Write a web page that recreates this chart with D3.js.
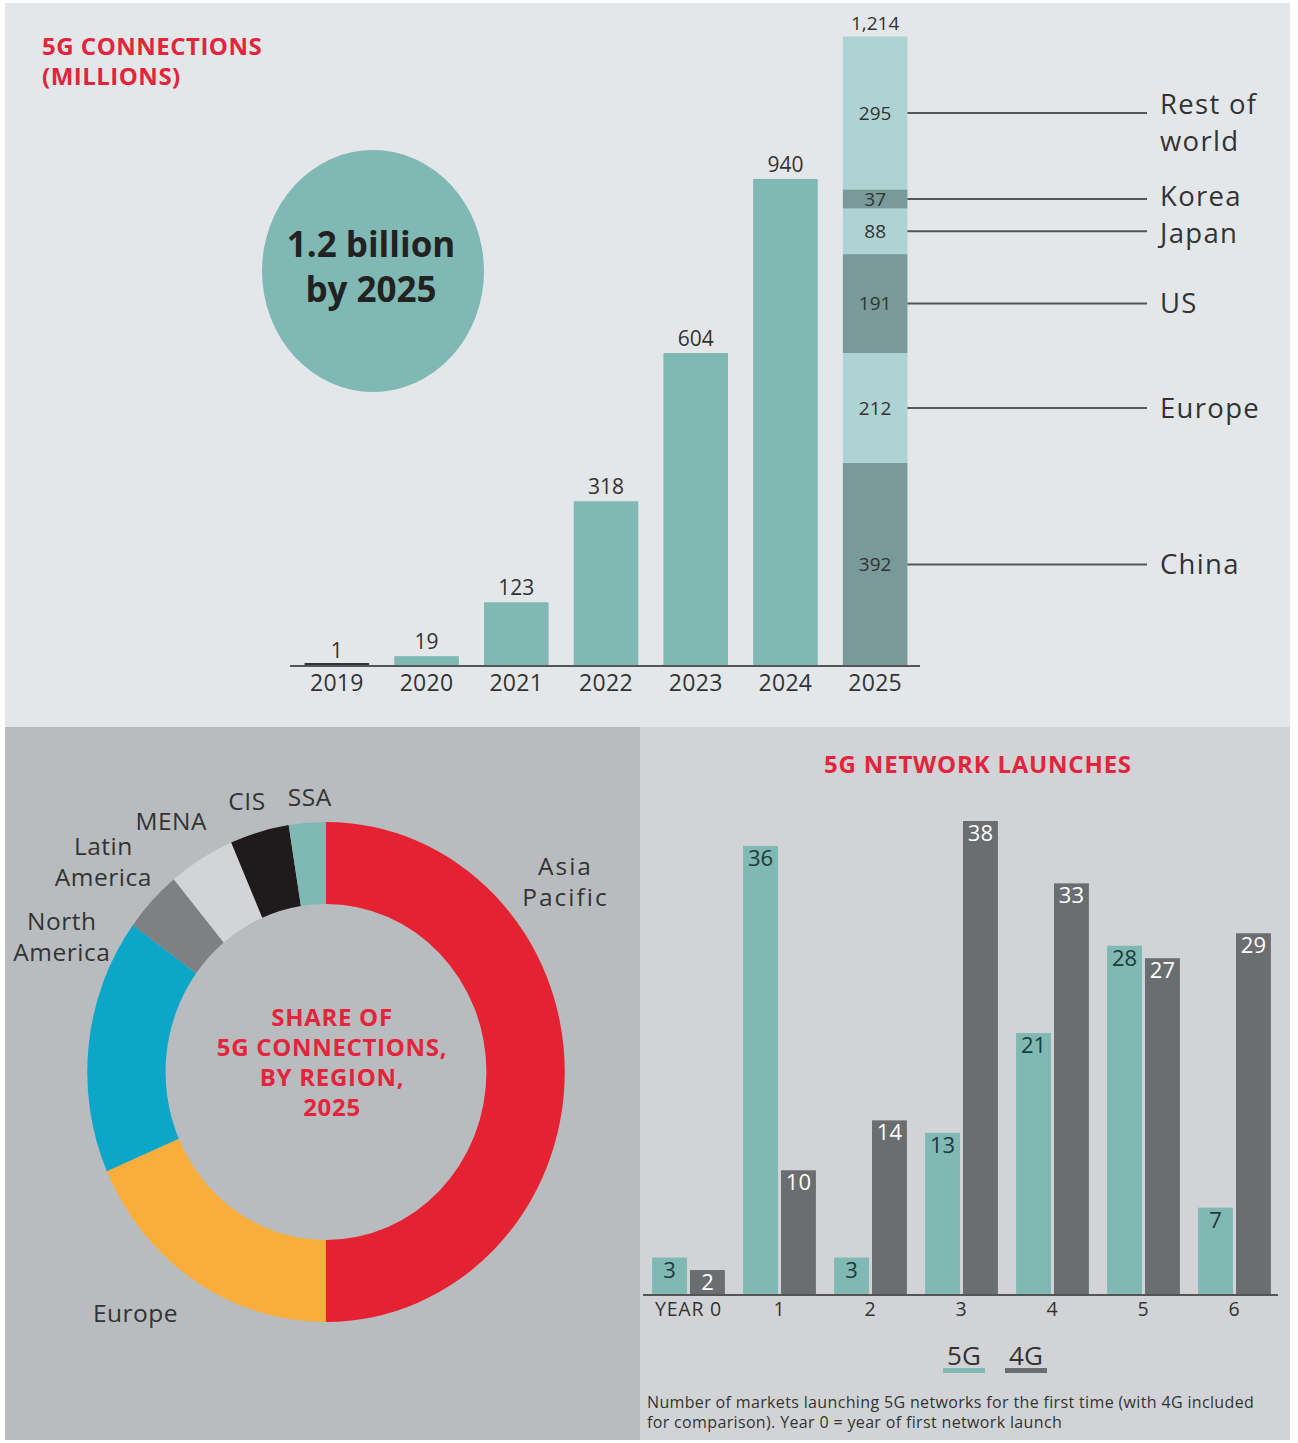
<!DOCTYPE html>
<html lang="en">
<head>
    <meta charset="UTF-8">
    <title>5G connections</title>
    <style>
        body {
            margin: 0;
            background: white;
        }

        svg {
            display: block;
            font-family: "Open Sans", sans-serif;
        }

        .title {
            fill: #e3243b;
            font-weight: bold;
        }

        .dark {
            fill: #333;
        }

        .domain {
            stroke: #555;
            stroke-width: 2;
        }
    </style>
</head>
<body>
<svg id="chart" width="1298" height="1443"></svg>
<script src="https://cdn.jsdelivr.net/npm/d3@7"></script>
<script>

// 5G connections, millions
const years = ["2019", "2020", "2021", "2022", "2023", "2024", "2025"];
const connections = [1, 19, 123, 318, 604, 940, 1214];

// 2025 split, bottom to top
const regions2025 = ["China", "Europe", "US", "Japan", "Korea", "Rest of world"];
const regionValues2025 = [392, 212, 191, 88, 37, 295];

// share of 5G connections by region, 2025 (%)
const shareRegions = ["Asia Pacific", "Europe", "North America", "Latin America", "MENA", "CIS", "SSA"];
const shareValues = [50, 18.5, 16.5, 4, 4.5, 4, 2.5];
const shareColors = ["#e52231", "#f9ae3c", "#0ca6c9", "#7e8082", "#d3d4d6", "#1f1a1c", "#7fb9b4"];

// network launches
const launchYears = ["YEAR 0", "1", "2", "3", "4", "5", "6"];
const launches5G = [3, 36, 3, 13, 21, 28, 7];
const launches4G = [2, 10, 14, 38, 33, 27, 29];

const teal = "#80b8b3",
    tealDark = "#789a99",
    tealLight = "#afd3d2",
    grey4G = "#6b6e71";

const svg = d3.select("#chart");

// panels
svg.append("rect").attr("x", 5).attr("y", 3).attr("width", 1285).attr("height", 724).attr("fill", "#e4e7ea");
svg.append("rect").attr("x", 5).attr("y", 727).attr("width", 635).attr("height", 713).attr("fill", "#b9bcbf");
svg.append("rect").attr("x", 640).attr("y", 727).attr("width", 650).attr("height", 713).attr("fill", "#d1d3d6");

// ---------- top: connections bar chart ----------
const topG = svg.append("g");

topG.append("text")
    .attr("class", "title")
    .attr("font-size", 24)
    .attr("letter-spacing", 0.5)
    .selectAll("tspan")
    .data(["5G CONNECTIONS", "(MILLIONS)"])
    .join("tspan")
    .attr("x", 42)
    .attr("y", (d, i) => 55 + i * 30)
    .text(d => d);

const x = d3.scaleBand()
    .domain(years)
    .range([292, 920])
    .paddingInner(0.28)
    .paddingOuter(0.14);

const y = d3.scaleLinear()
    .domain([0, 1214])
    .range([666, 37]);

const barData = years.map((yr, i) => ({ year: yr, value: connections[i] }));
const lastYear = years[years.length - 1];

topG.selectAll(".bar")
    .data(barData.filter(d => d.year !== lastYear))
    .join("rect")
    .attr("class", "bar")
    .attr("x", d => x(d.year))
    .attr("width", x.bandwidth())
    .attr("y", d => Math.min(y(d.value), y(0) - 3))
    .attr("height", d => Math.max(y(0) - y(d.value), 3))
    .attr("fill", d => y(0) - y(d.value) < 3 ? "#333" : teal);

// stacked 2025
const tops = d3.cumsum(regionValues2025);
const segs = regions2025.map((name, i) => ({
    name,
    value: regionValues2025[i],
    y0: tops[i] - regionValues2025[i],
    y1: tops[i],
    mid: y((tops[i] - regionValues2025[i] / 2)),
    i
}));

// keep right-hand labels from colliding
const minGap = 37;
const labelY = segs.map(d => d.mid);
for (let i = 1; i < labelY.length; i++) {
    const gap = labelY[i - 1] - labelY[i];
    if (gap < minGap) {
        labelY[i - 1] += (minGap - gap) / 2;
        labelY[i] -= (minGap - gap) / 2;
    }
}

topG.selectAll(".seg")
    .data(segs)
    .join("rect")
    .attr("class", "seg")
    .attr("x", x(lastYear))
    .attr("width", x.bandwidth())
    .attr("y", d => y(d.y1))
    .attr("height", d => y(d.y0) - y(d.y1))
    .attr("fill", d => d.i % 2 === 0 ? tealDark : tealLight);

topG.selectAll(".segval")
    .data(segs)
    .join("text")
    .attr("class", "dark")
    .attr("x", x(lastYear) + x.bandwidth() / 2)
    .attr("y", d => d.mid)
    .attr("dy", "0.35em")
    .attr("text-anchor", "middle")
    .attr("font-size", 19)
    .text(d => d.value);

topG.selectAll(".leader")
    .data(segs)
    .join("line")
    .attr("x1", x(lastYear) + x.bandwidth())
    .attr("x2", 1147)
    .attr("y1", d => d.mid)
    .attr("y2", d => d.mid)
    .attr("stroke", "#555")
    .attr("stroke-width", 2);

const segLabels = topG.selectAll(".seglab")
    .data(segs)
    .join("text")
    .attr("class", "dark")
    .attr("font-size", 27.5)
    .attr("letter-spacing", 1.3)
    .attr("y", (d, i) => labelY[i]);

segLabels.selectAll("tspan")
    .data(d => d.name === "Rest of world" ? ["Rest of", "world"] : [d.name])
    .join("tspan")
    .attr("x", 1160)
    .attr("dy", (d, i, nodes) => nodes.length > 1 ? (i === 0 ? "0.05em" : "1.32em") : "0.35em")
    .text(d => d);

// value labels on top
topG.selectAll(".val")
    .data(barData)
    .join("text")
    .attr("class", "dark")
    .attr("x", d => x(d.year) + x.bandwidth() / 2)
    .attr("y", d => y(d.value) - 7)
    .attr("text-anchor", "middle")
    .attr("font-size", d => d.value > 999 ? 19 : 21)
    .text(d => d3.format(",")(d.value));

const xAxis = topG.append("g")
    .attr("transform", `translate(0,${y(0)})`)
    .call(d3.axisBottom(x).tickSize(0).tickPadding(9));
xAxis.select(".domain").attr("d", "M290,0H920");
xAxis.selectAll("text")
    .attr("font-family", "Open Sans, sans-serif")
    .attr("font-size", 23)
    .attr("letter-spacing", 0.3)
    .attr("fill", "#333");

// circle callout
topG.append("ellipse")
    .attr("cx", 373)
    .attr("cy", 271)
    .attr("rx", 111)
    .attr("ry", 121)
    .attr("fill", "#80b9b4");

topG.append("text")
    .attr("text-anchor", "middle")
    .attr("font-weight", "bold")
    .attr("font-size", 35)
    .attr("fill", "#222")
    .selectAll("tspan")
    .data(["1.2 billion", "by 2025"])
    .join("tspan")
    .attr("x", 371)
    .attr("y", (d, i) => 257 + i * 45)
    .text(d => d);

// ---------- bottom left: donut ----------
const cx = 326, cy = 1072, sx = 0.955;
const outerR = 250, innerR = 168;

const shareData = shareRegions.map((name, i) => ({ name, value: shareValues[i], color: shareColors[i] }));
const pie = d3.pie().sort(null).value(d => d.value);
const arcs = pie(shareData);
const arc = d3.arc().innerRadius(innerR).outerRadius(outerR);

const donut = svg.append("g")
    .attr("transform", `translate(${cx},${cy}) scale(${sx},1)`);

donut.selectAll("path")
    .data(arcs)
    .join("path")
    .attr("d", arc)
    .attr("fill", d => d.data.color);

// label angle tweaks (hand placed in the original)
const labelShift = { "Asia Pacific": -0.65, "Europe": 0.11, "North America": 0.345, "Latin America": -0.02, "MENA": -0.023, "CIS": -0.014, "SSA": 0.017 };
const labelRadius = { "Asia Pacific": 315, "Europe": 313, "North America": 308, "Latin America": 314, "MENA": 299, "CIS": 283, "SSA": 276 };

svg.selectAll(".sharelab")
    .data(arcs)
    .join("text")
    .attr("class", "dark")
    .attr("text-anchor", "middle")
    .attr("font-size", 24.5)
    .attr("letter-spacing", d => d.data.name === "Asia Pacific" ? 2 : 0.5)
    .each(function(d) {
        const a = (d.startAngle + d.endAngle) / 2 + (labelShift[d.data.name] || 0);
        const r = labelRadius[d.data.name];
        const lx = cx + Math.sin(a) * r * sx;
        const ly = cy - Math.cos(a) * r;
        const lines = d.data.name.includes(" ") ? d.data.name.split(" ") : [d.data.name];
        d3.select(this).selectAll("tspan")
            .data(lines)
            .join("tspan")
            .attr("x", lx)
            .attr("y", (t, i) => ly + 9 + (i - (lines.length - 1) / 2) * 31)
            .text(t => t);
    });

svg.append("text")
    .attr("class", "title")
    .attr("text-anchor", "middle")
    .attr("font-size", 24)
    .attr("letter-spacing", 0.7)
    .selectAll("tspan")
    .data(["SHARE OF", "5G CONNECTIONS,", "BY REGION,", "2025"])
    .join("tspan")
    .attr("x", 332)
    .attr("y", (d, i) => 1026 + i * 30)
    .text(d => d);

// ---------- bottom right: launches ----------
const right = svg.append("g");

right.append("text")
    .attr("class", "title")
    .attr("x", 978)
    .attr("y", 773)
    .attr("text-anchor", "middle")
    .attr("font-size", 24)
    .attr("letter-spacing", 0.8)
    .text("5G NETWORK LAUNCHES");

const x0 = d3.scaleBand()
    .domain(launchYears)
    .range([643, 1280])
    .paddingInner(0.2)
    .paddingOuter(0.1);

const x1 = d3.scaleBand()
    .domain(["5G", "4G"])
    .range([0, x0.bandwidth()])
    .paddingInner(0.08);

const y2 = d3.scaleLinear()
    .domain([0, 38])
    .range([1295, 821]);

const launchData = launchYears.map((yr, i) => ({
    year: yr,
    series: [
        { key: "5G", value: launches5G[i] },
        { key: "4G", value: launches4G[i] }
    ]
}));

const groups = right.selectAll(".grp")
    .data(launchData)
    .join("g")
    .attr("transform", d => `translate(${x0(d.year)},0)`);

groups.selectAll("rect")
    .data(d => d.series)
    .join("rect")
    .attr("x", d => x1(d.key))
    .attr("width", x1.bandwidth())
    .attr("y", d => y2(d.value))
    .attr("height", d => y2(0) - y2(d.value))
    .attr("fill", d => d.key === "5G" ? teal : grey4G);

groups.selectAll("text")
    .data(d => d.series)
    .join("text")
    .attr("x", d => x1(d.key) + x1.bandwidth() / 2)
    .attr("y", d => y2(d.value) + 20)
    .attr("text-anchor", "middle")
    .attr("font-size", 22)
    .attr("fill", d => d.key === "5G" ? "#1e3b3a" : "#fff")
    .text(d => d.value);

const x0Axis = right.append("g")
    .attr("transform", `translate(0,${y2(0)})`)
    .call(d3.axisBottom(x0).tickSize(0).tickPadding(7));
x0Axis.select(".domain").attr("d", "M643,0H1278");
x0Axis.selectAll("text")
    .attr("font-family", "Open Sans, sans-serif")
    .attr("font-size", 19.5)
    .attr("letter-spacing", 0.8)
    .attr("fill", "#333");

// legend
const legend = right.selectAll(".leg")
    .data([{ key: "5G", color: teal, cx: 964 }, { key: "4G", color: grey4G, cx: 1026 }])
    .join("g");

legend.append("text")
    .attr("class", "dark")
    .attr("x", d => d.cx)
    .attr("y", 1365)
    .attr("text-anchor", "middle")
    .attr("font-size", 26)
    .text(d => d.key);

legend.append("rect")
    .attr("x", d => d.cx - 21)
    .attr("y", 1368)
    .attr("width", 42)
    .attr("height", 5)
    .attr("fill", d => d.color);

right.append("text")
    .attr("class", "dark")
    .attr("font-size", 16)
    .attr("letter-spacing", 0.35)
    .selectAll("tspan")
    .data(["Number of markets launching 5G networks for the first time (with 4G included",
           "for comparison). Year 0 = year of first network launch"])
    .join("tspan")
    .attr("x", 647)
    .attr("y", (d, i) => 1408 + i * 20)
    .text(d => d);

</script>
</body>
</html>
